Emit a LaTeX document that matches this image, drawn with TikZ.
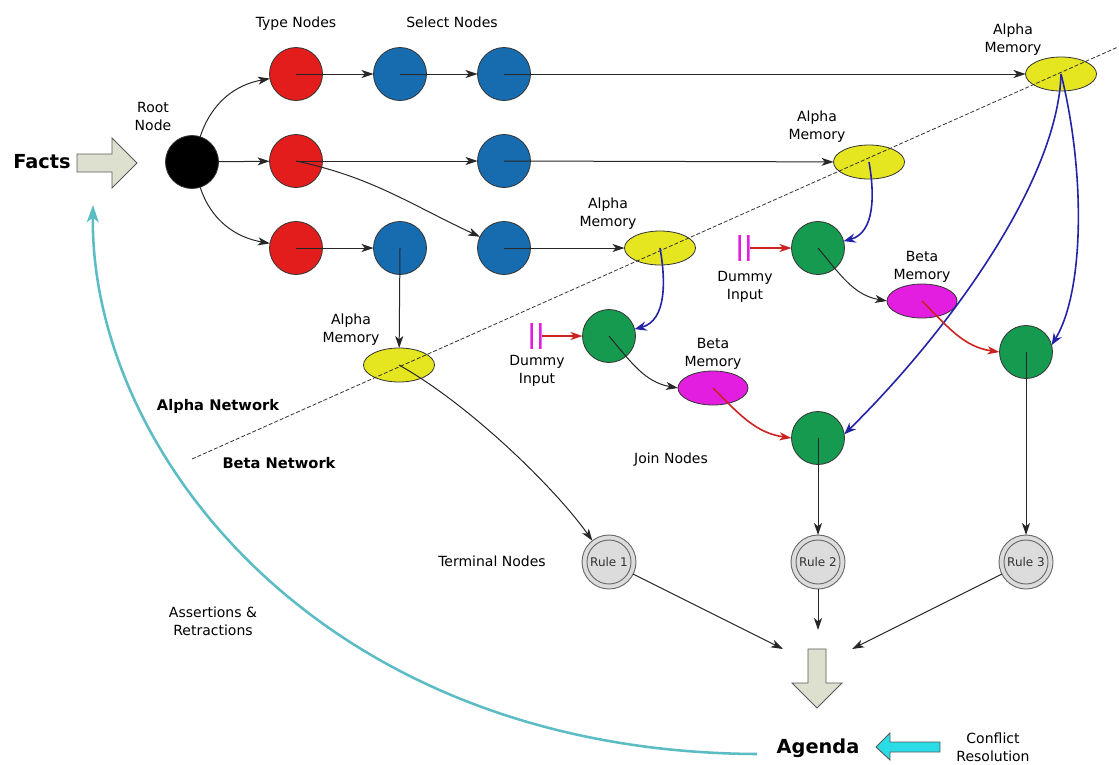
\documentclass[tikz,border=0pt]{standalone}
\usepackage{fontspec}
\setmainfont{DejaVu Sans}
\usetikzlibrary{arrows.meta,shapes.geometric}

\definecolor{typered}{HTML}{E31C1C}
\definecolor{selblue}{HTML}{176CB0}
\definecolor{joingreen}{HTML}{159A50}
\definecolor{memyellow}{HTML}{E6E620}
\definecolor{memmagenta}{HTML}{E41EE0}
\definecolor{edgegray}{HTML}{333333}
\definecolor{rulefill}{HTML}{DCDCDC}
\definecolor{ruleedge}{HTML}{6A6A6A}
\definecolor{bigarrow}{HTML}{DDE0CF}
\definecolor{cyanfill}{HTML}{2ADCE6}
\definecolor{feedcol}{HTML}{5BBCC4}
\definecolor{alphablue}{HTML}{2323A8}
\definecolor{betared}{HTML}{CC2222}

\begin{document}
\begin{tikzpicture}[x=0.75pt,y=-0.75pt,
  every node/.style={inner sep=0pt, outer sep=0pt},
  txt/.style={font=\fontsize{10.5}{13.5}\selectfont},
  txtml/.style={font=\fontsize{10.5}{13.5}\selectfont, align=center},
  bold/.style={font=\fontsize{11}{13.5}\selectfont\bfseries},
  big/.style={font=\fontsize{14.5}{17}\selectfont\bfseries},
  ball/.style={circle, draw=edgegray, line width=0.6pt, minimum size=39.75pt},
  rootnode/.style={ball, fill=black},
  typenode/.style={ball, fill=typered},
  selnode/.style={ball, fill=selblue},
  joinnode/.style={ball, fill=joingreen},
  amem/.style={ellipse, draw=edgegray, line width=0.6pt, fill=memyellow,
    minimum width=53.25pt, minimum height=25.5pt},
  bmem/.style={ellipse, draw=edgegray, line width=0.6pt, fill=memmagenta,
    minimum width=52.5pt, minimum height=25.5pt},
  rulenode/.style={circle, draw=ruleedge, line width=0.7pt, fill=rulefill,
    minimum size=40.5pt, text=edgegray, font=\fontsize{9}{10}\selectfont,
    path picture={\draw[ruleedge, line width=0.7pt]
      (path picture bounding box.center) circle (16.5pt);}},
  dummynode/.style={rectangle, minimum width=8.4pt, minimum height=20pt,
    path picture={\draw[memmagenta, line width=2.2pt]
      ([xshift=1.1pt]path picture bounding box.north west)
        -- ([xshift=1.1pt]path picture bounding box.south west)
      ([xshift=-1.1pt]path picture bounding box.north east)
        -- ([xshift=-1.1pt]path picture bounding box.south east);}},
  conn/.style={draw=black!85, line width=0.75pt,
    -{Stealth[length=9pt, width=6pt, inset=2.5pt]}},
  alphaconn/.style={draw=alphablue, line width=1.2pt,
    -{Stealth[length=9pt, width=7pt, inset=3pt]}},
  betaconn/.style={draw=betared, line width=1.2pt,
    -{Stealth[length=9pt, width=6pt, inset=2.5pt]}},
  feedback/.style={draw=feedcol, line width=1.9pt,
    -{Stealth[length=13pt, width=9pt, inset=3.5pt]}},
  divider/.style={draw=black!80, line width=0.6pt, dash pattern=on 3pt off 1.5pt},
  fatarrow/.style={draw=black!65, line width=0.7pt, line join=miter}
]
\useasboundingbox (0,0) rectangle (1119,764);

% ---- nodes of the alpha network
\node[rootnode] (root) at (192,162) {};
\node[typenode] (t1) at (296,74) {};
\node[typenode] (t2) at (296,161) {};
\node[typenode] (t3) at (296,248) {};
\node[selnode] (s1) at (400,74) {};
\node[selnode] (s2) at (504,74) {};
\node[selnode] (s3) at (504,161) {};
\node[selnode] (s4) at (504,248) {};
\node[selnode] (s5) at (400,248) {};
\node[amem] (a1) at (1061,74) {};
\node[amem] (a2) at (869,162) {};
\node[amem] (a3) at (660,248) {};
\node[amem] (a4) at (399,365) {};

% ---- nodes of the beta network
\node[joinnode] (j1) at (609,336) {};
\node[joinnode] (j2) at (818,248) {};
\node[joinnode] (j3) at (1026,352) {};
\node[joinnode] (j4) at (818,438) {};
\node[bmem] (b1) at (922,301) {};
\node[bmem] (b2) at (713,388) {};
\node[dummynode] (d1) at (536,336) {};
\node[dummynode] (d2) at (744,248) {};
\node[rulenode] (r1) at (609,562) {Rule 1};
\node[rulenode] (r2) at (818,562) {Rule 2};
\node[rulenode] (r3) at (1026,562) {Rule 3};

% ---- labels
\node[txt, anchor=base] at (296,27) {Type Nodes};
\node[txt, anchor=base] at (452,27) {Select Nodes};
\node[txtml] at (153,116) {Root\\Node};
\node[txtml] at (1013,40) {Alpha\\Memory};
\node[txtml] at (817,127) {Alpha\\Memory};
\node[txtml] at (608,214) {Alpha\\Memory};
\node[txtml] at (351,330) {Alpha\\Memory};
\node[txtml] at (922,267) {Beta\\Memory};
\node[txtml] at (713,354) {Beta\\Memory};
\node[txtml] at (745,287) {Dummy\\Input};
\node[txtml] at (537,371) {Dummy\\Input};
\node[txt, anchor=base] at (671,463) {Join Nodes};
\node[txt, anchor=base] at (492,566) {Terminal Nodes};
\node[bold, anchor=base] at (218,410) {Alpha Network};
\node[bold, anchor=base] at (279,468) {Beta Network};
\node[txtml] at (213,621) {Assertions \&\\Retractions};
\node[txtml] at (993,747) {Conflict\\Resolution};
\node[big, anchor=base] (facts) at (42,168) {Facts};
\node[big, anchor=base] (agenda) at (818,753) {Agenda};

% ---- divider between the two networks
\coordinate (divA) at (192,459);
\coordinate (divB) at (1118,47);
\draw[divider] (divA) -- (divB);

% ---- block arrows
\draw[fatarrow, fill=bigarrow] (77,154) -- (112,154) -- (112,138) -- (137,163)
  -- (112,188) -- (112,172) -- (77,172) -- cycle;
\draw[fatarrow, fill=bigarrow] (808,649) -- (826,649) -- (826,683) -- (842,683)
  -- (817,708) -- (792,683) -- (808,683) -- cycle;
\draw[fatarrow, fill=cyanfill] (940,742) -- (890,742) -- (890,733) -- (876,747)
  -- (890,760) -- (890,752) -- (940,752) -- cycle;

% ---- alpha network connectors
\draw[conn] (root) to[out=72,in=190] (t1);
\draw[conn] (root) -- (t2);
\draw[conn] (root) to[out=-72,in=170] (t3);
\draw[conn] (t1.center) -- (s1);
\draw[conn] (s1.center) -- (s2);
\draw[conn] (s2.center) -- (a1);
\draw[conn] (t2.center) -- (s3);
\draw[conn] (t2.center) to[out=-12,in=155] (s4);
\draw[conn] (t3.center) -- (s5);
\draw[conn] (s3.center) -- (a2);
\draw[conn] (s4.center) -- (a3);
\draw[conn] (s5.center) -- (a4);
\draw[conn] (a4.center) .. controls (470,405) and (555,488) .. (r1.128);

% ---- alpha memories feeding join nodes
\draw[alphaconn] (a3.center) to[out=-80,in=15] (j1);
\draw[alphaconn] (a2.center) to[out=-80,in=15] (j2);
\draw[alphaconn] (a1.center) .. controls (1058,180) and (950,330) .. (j4.8);
\draw[alphaconn] (a1.center) .. controls (1085,170) and (1085,290) .. (j3.15);

% ---- beta network connectors
\draw[conn] (j1.center) to[out=-50,in=170] (b2.west);
\draw[conn] (j2.center) to[out=-50,in=170] (b1.west);
\draw[betaconn] (b1.center) to[out=-45,in=172] (j3.west);
\draw[betaconn] (b2.center) to[out=-45,in=172] (j4.west);
\draw[betaconn] (d1) -- (j1);
\draw[betaconn] (d2) -- (j2);
\draw[conn] (j4.center) -- (r2);
\draw[conn] (j3.center) -- (r3);

% ---- terminal nodes into the agenda
\coordinate (in1) at (783,649);
\coordinate (in2) at (818,630);
\coordinate (in3) at (852,649);
\draw[conn] (r1) -- (in1);
\draw[conn] (r2) -- (in2);
\draw[conn] (r3) -- (in3);

% ---- feedback from the agenda to the facts
\coordinate (fbstart) at (757,754);
\coordinate (fbend) at (93,205);
\draw[feedback] (fbstart) .. controls (320,752) and (90,450) .. (fbend);
\end{tikzpicture}
\end{document}
